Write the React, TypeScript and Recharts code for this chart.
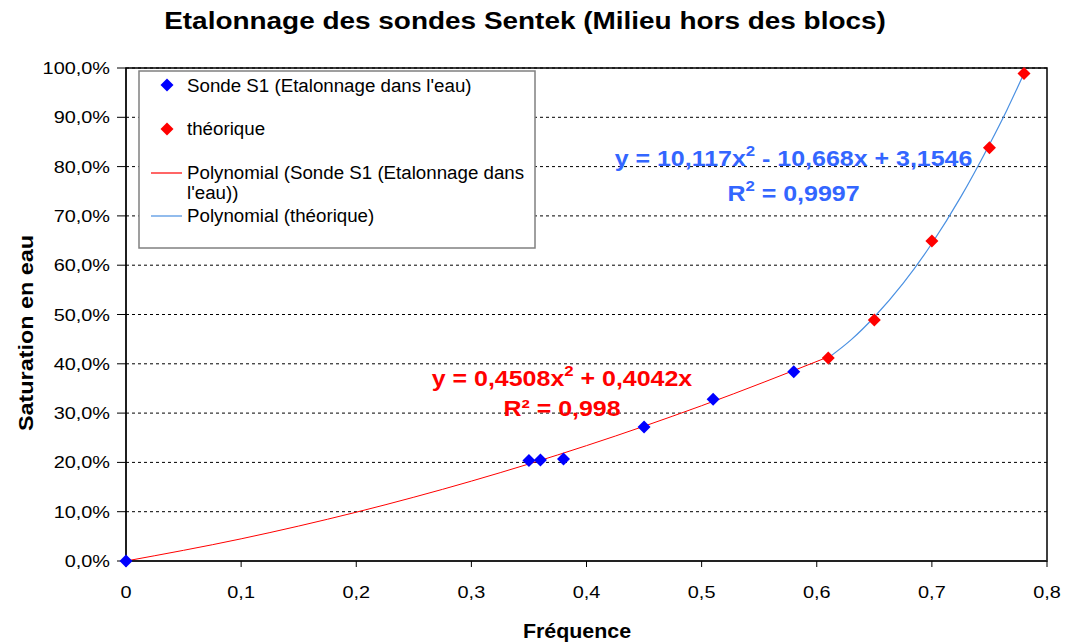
import React from 'react';
import {
  ComposedChart, Line, Scatter, XAxis, YAxis, CartesianGrid, ReferenceArea,
} from 'recharts';

// ---- data ----
const sondeX = [0, 0.35, 0.36, 0.38, 0.45, 0.51, 0.58];
const sondeY = [0, 0.204, 0.205, 0.207, 0.272, 0.328, 0.384];
const theoX = [0.61, 0.65, 0.7, 0.75, 0.78];
const theoY = [0.412, 0.489, 0.649, 0.838, 0.989];
const trendSondeX = [0, 0.1, 0.2, 0.3, 0.4, 0.5, 0.61];
const trendSondeY = [0, 0.045, 0.099, 0.162, 0.234, 0.315, 0.414];
const trendTheoX = [0.61, 0.63, 0.65, 0.675, 0.7, 0.725, 0.75, 0.765, 0.78];
const trendTheoY = [0.412, 0.449, 0.495, 0.563, 0.644, 0.738, 0.845, 0.914, 0.989];
const xTicks = [0, 0.1, 0.2, 0.3, 0.4, 0.5, 0.6, 0.7, 0.8];
const yTicks = [0, 0.1, 0.2, 0.3, 0.4, 0.5, 0.6, 0.7, 0.8, 0.9, 1];
const legendLabels = [
  'Sonde S1 (Etalonnage dans l\'eau)',
  'théorique',
  'Polynomial (Sonde S1 (Etalonnage dans',
  'l\'eau))',
  'Polynomial (théorique)',
];

const zip = (xs: number[], ys: number[]) => xs.map((x, i) => ({ x, y: ys[i] }));
const sondeData = zip(sondeX, sondeY);
const theoData = zip(theoX, theoY);
const trendSonde = zip(trendSondeX, trendSondeY);
const trendTheo = zip(trendTheoX, trendTheoY);

const FONT = '"Liberation Sans", Arial, sans-serif';
const SX = 1.15;

const Diamond = (props: any) => {
  const { cx, cy, fill } = props;
  if (cx == null || cy == null) return null;
  const r = 6.5;
  return (
    <polygon
      points={`${cx},${cy - r} ${cx + r},${cy} ${cx},${cy + r} ${cx - r},${cy}`}
      fill={fill}
    />
  );
};

const YTick = (props: any) => {
  const { x, y, payload } = props;
  const label = (payload.value * 100).toFixed(1).replace('.', ',') + '%';
  return (
    <text
      transform={`translate(${x - 5},${y + 6}) scale(${SX},1)`}
      textAnchor="end"
      fontSize={17.3}
      fontFamily={FONT}
      fill="#000"
    >
      {label}
    </text>
  );
};

const XTick = (props: any) => {
  const { x, y, payload } = props;
  const v = payload.value;
  const label = v === 0 ? '0' : String(Math.round(v * 10) / 10).replace('.', ',');
  return (
    <text
      transform={`translate(${x},${y + 29}) scale(${SX},1)`}
      textAnchor="middle"
      fontSize={17.3}
      fontFamily={FONT}
      fill="#000"
    >
      {label}
    </text>
  );
};

export default function App() {
  return (
    <div style={{ position: 'absolute', left: 0, top: 0, width: 1065, height: 643, background: '#fff' }}>
      <ComposedChart
        width={1065}
        height={643}
        margin={{ top: 68, right: 18, bottom: 52, left: 66 }}
      >
        <CartesianGrid horizontal vertical={false} stroke="#000" strokeDasharray="3 3" />
        <XAxis
          type="number"
          dataKey="x"
          domain={[0, 0.8]}
          ticks={xTicks}
          interval={0}
          height={30}
          tickSize={6}
          axisLine={{ stroke: '#222', strokeWidth: 2 }}
          tickLine={{ stroke: '#000' }}
          tick={(p: any) => <XTick {...p} />}
        />
        <YAxis
          type="number"
          domain={[0, 1]}
          ticks={yTicks}
          interval={0}
          width={60}
          tickSize={9}
          axisLine={{ stroke: '#000' }}
          tickLine={{ stroke: '#000' }}
          tick={(p: any) => <YTick {...p} />}
        />
        <ReferenceArea x1={0} x2={0.8} y1={0} y2={1} fill="none" stroke="#000" strokeWidth={1.5} />
        <Line
          data={trendSonde}
          dataKey="y"
          type="monotone"
          stroke="#ff0000"
          strokeWidth={1}
          dot={false}
          activeDot={false}
          isAnimationActive={false}
        />
        <Line
          data={trendTheo}
          dataKey="y"
          type="monotone"
          stroke="#4a90e2"
          strokeWidth={1.2}
          dot={false}
          activeDot={false}
          isAnimationActive={false}
        />
        <Scatter data={sondeData} dataKey="y" fill="#0000ff" shape={(p: any) => <Diamond {...p} fill="#0000ff" />} isAnimationActive={false} />
        <Scatter data={theoData} dataKey="y" fill="#ff0000" shape={(p: any) => <Diamond {...p} fill="#ff0000" />} isAnimationActive={false} />
      </ComposedChart>

      <svg
        width={1065}
        height={643}
        style={{ position: 'absolute', left: 0, top: 0, pointerEvents: 'none' }}
        fontFamily={FONT}
      >
        {/* title */}
        <text transform="translate(525,29) scale(1.15,1)" textAnchor="middle" fontSize={24.3} fontWeight="bold" fill="#000">
          Etalonnage des sondes Sentek (Milieu hors des blocs)
        </text>
        {/* axis titles */}
        <text
          transform="translate(33,333) rotate(-90) scale(1.17,1)"
          textAnchor="middle"
          fontSize={20}
          fontWeight="bold"
          fill="#000"
        >
          Saturation en eau
        </text>
        <text transform="translate(577,638) scale(1.07,1)" textAnchor="middle" fontSize={20} fontWeight="bold" fill="#000">
          Fréquence
        </text>

        {/* legend */}
        <rect x={139} y={71} width={396} height={177} fill="#fff" stroke="#808080" strokeWidth={1.5} />
        <polygon points="167,78.5 173.5,85 167,91.5 160.5,85" fill="#0000ff" />
        <polygon points="167,122.5 173.5,129 167,135.5 160.5,129" fill="#ff0000" />
        <line x1={151} y1={173} x2={182} y2={173} stroke="#ff0000" strokeWidth={1.2} />
        <line x1={151} y1={216} x2={182} y2={216} stroke="#4a90e2" strokeWidth={1.2} />
        <g fontSize={18} fill="#000">
          <text transform="translate(187,92) scale(1.04,1)">{legendLabels[0]}</text>
          <text transform="translate(187,135) scale(1.04,1)">{legendLabels[1]}</text>
          <text transform="translate(187,179) scale(1.04,1)">{legendLabels[2]}</text>
          <text transform="translate(187,199) scale(1.04,1)">{legendLabels[3]}</text>
          <text transform="translate(187,222) scale(1.04,1)">{legendLabels[4]}</text>
        </g>

        {/* trendline equations */}
        <text transform="translate(793.5,166) scale(1.12,1)" textAnchor="middle" fontSize={22.3} fontWeight="bold" fill="#3366ff">
          y = 10,117x<tspan dy={-10} fontSize={15}>2</tspan><tspan dy={10}> - 10,668x + 3,1546</tspan>
        </text>
        <text transform="translate(793.5,201) scale(1.12,1)" textAnchor="middle" fontSize={22.3} fontWeight="bold" fill="#3366ff">
          R<tspan dy={-10} fontSize={15}>2</tspan><tspan dy={10}> = 0,9997</tspan>
        </text>
        <text transform="translate(562,386) scale(1.12,1)" textAnchor="middle" fontSize={22.3} fontWeight="bold" fill="#ff0000">
          y = 0,4508x<tspan dy={-10} fontSize={15}>2</tspan><tspan dy={10}> + 0,4042x</tspan>
        </text>
        <text transform="translate(562,416) scale(1.12,1)" textAnchor="middle" fontSize={22.3} fontWeight="bold" fill="#ff0000">
          R² = 0,998
        </text>
      </svg>
    </div>
  );
}
